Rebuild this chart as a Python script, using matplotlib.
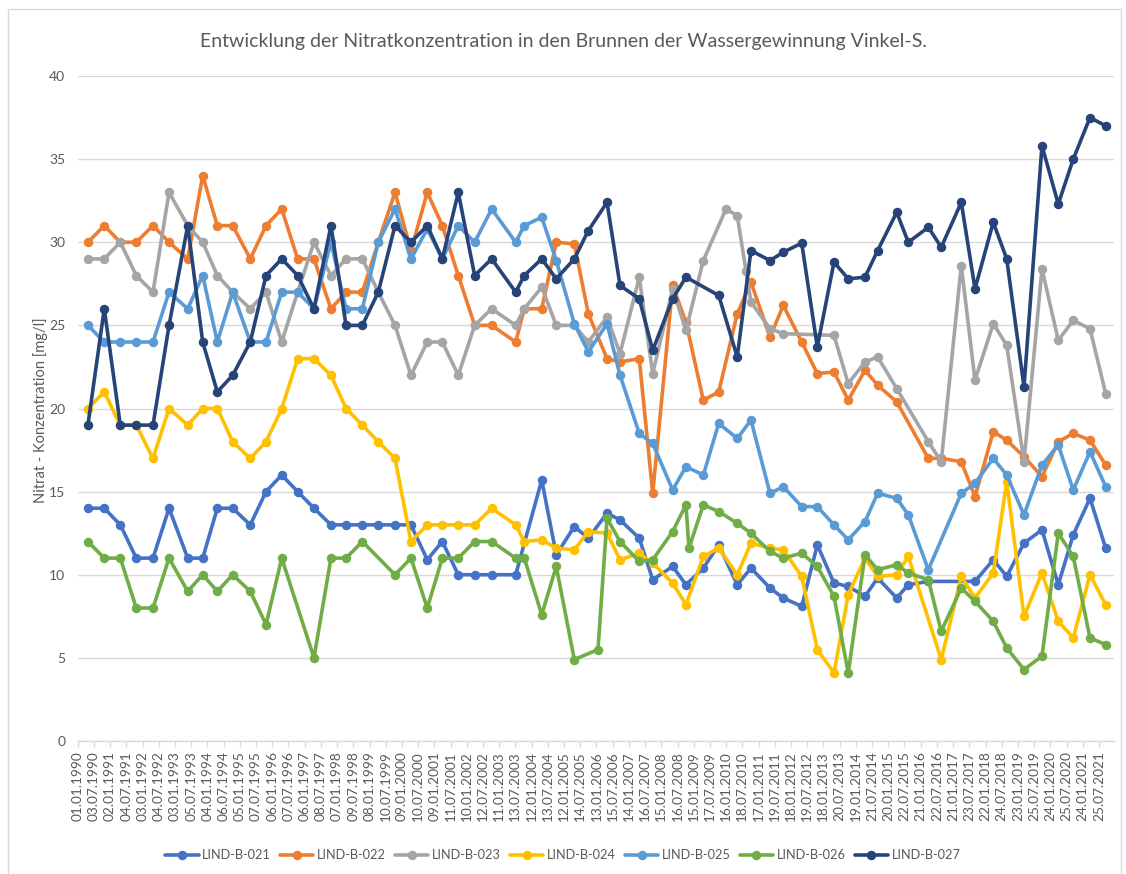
import matplotlib
matplotlib.use("Agg")
import matplotlib.pyplot as plt
import numpy as np
import pandas as pd
from matplotlib.patches import Rectangle

plt.rcParams["font.family"] = ["Lato", "DejaVu Sans"]

TITLE = "Entwicklung der Nitratkonzentration in den Brunnen der Wassergewinnung Vinkel-S."
YLABEL = "Nitrat - Konzentration [mg/l]"

# sampling dates
DATES = [
    "1990-04-26", "1990-10-28", "1991-04-27", "1991-10-24", "1992-04-30", "1992-10-28",
    "1993-05-27", "1993-11-12", "1994-04-26", "1994-10-17", "1995-05-03", "1995-10-28",
    "1996-04-22", "1996-10-19", "1997-04-21", "1997-10-30", "1998-04-18", "1998-10-19",
    "1999-04-17", "1999-10-23", "2000-04-20", "2000-10-21", "2001-04-09", "2001-10-06",
    "2002-04-09", "2002-10-18", "2003-07-16", "2003-10-21", "2004-05-05", "2004-10-16",
    "2005-05-08", "2005-10-13", "2006-01-30", "2006-05-12", "2006-10-06", "2007-05-11",
    "2007-10-10", "2008-05-22", "2008-10-19", "2008-11-22", "2009-05-03", "2009-10-24",
    "2010-01-14", "2010-05-21", "2010-08-27", "2010-10-23", "2011-05-26", "2011-10-23",
    "2012-05-18", "2012-11-10", "2013-05-17", "2013-10-25", "2014-05-02", "2014-09-22",
    "2015-04-25", "2015-09-03", "2016-04-16", "2016-09-09", "2017-04-23", "2017-09-25",
    "2018-04-19", "2018-09-18", "2019-04-01", "2019-10-21", "2020-04-22", "2020-10-08",
    "2021-04-15", "2021-10-09",
]

N = None
B021 = [14, 14, 13, 11, 11, 14, 11, 11, 14, 14, 13, 15, 16, 15, 14, 13, 13, 13, 13, 13, 13,
        10.9, 12.0, 10, 10, 10, 10, N, 15.7, 11.2, 12.9, 12.2, N, 13.7, 13.3, 12.2, 9.7, 10.5,
        9.4, N, 10.4, 11.8, N, 9.4, N, 10.4, 9.2, 8.6, 8.1, 11.8, 9.5, 9.3, 8.7, 9.8, 8.6, 9.4,
        9.6, N, N, 9.6, 10.9, 9.9, 11.9, 12.7, 9.4, 12.4, 14.6, 11.6]
B022 = [30, 31, 30, 30, 31, 30, 29, 34, 31, 31, 29, 31, 32, 29, 29, 26, 27, 27, 30, 33, 29.5,
        33, 31, 28, 25, 25, 24, 26, 26, 30, 29.9, 25.7, N, 23.0, 22.8, 23.0, 14.9, 27.4,
        25.2, N, 20.5, 21.0, N, 25.7, N, 27.6, 24.3, 26.2, 24.0, 22.1, 22.2, 20.5, 22.3, 21.4,
        20.4, N, 17.0, 17.0, 16.8, 14.7, 18.6, 18.1, 17.1, 15.9, 18.0, 18.5, 18.1, 16.6]
B023 = [29, 29, 30, 28, 27, 33, 31, 30, 28, 27, 26, 27, 24, 27, 30, 28, 29, 29, 27, 25, 22,
        24, 24, 22, 25, 26, 25, 26, 27.3, 25, 25, 24.0, N, 25.5, 23.3, 27.9, 22.1, 27.2,
        24.7, N, 28.9, N, 32.0, 31.6, 28.3, 26.4, 24.8, 24.5, N, N, 24.4, 21.5, 22.8, 23.1,
        21.2, N, 18.0, 16.8, 28.6, 21.7, 25.1, 23.8, 16.8, 28.4, 24.1, 25.3, 24.8, 20.9]
B024 = [20, 21, 19, 19, 17, 20, 19, 20, 20, 18, 17, 18, 20, 23, 23, 22, 20, 19, 18, 17, 12,
        13, 13, 13, 13, 14, 13, 12, 12.1, 11.6, 11.5, 12.6, N, 12.5, 10.9, 11.3, 10.7, 9.5,
        8.2, N, 11.1, 11.6, N, 10.0, N, 11.9, 11.6, 11.5, 9.9, 5.5, 4.1, 8.8, 11.0, 9.9,
        10.0, 11.1, N, 4.9, 9.9, 8.6, 10.1, 15.6, 7.5, 10.1, 7.2, 6.2, 10.0, 8.2]
B025 = [25, 24, 24, 24, 24, 27, 26, 28, 24, 27, 24, 24, 27, 27, 26, 30, 26, 26, 30, 32, 29,
        30.8, 29, 31, 30, 32, 30, 31, 31.5, 28.9, 25.1, 23.4, N, 25.1, 22.0, 18.5, 17.9, 15.1,
        16.5, N, 16.0, 19.1, N, 18.2, N, 19.3, 14.9, 15.3, 14.1, 14.1, 13.0, 12.1, 13.2, 14.9,
        14.6, 13.6, 10.3, N, 14.9, 15.5, 17.0, 16.0, 13.6, 16.6, 17.8, 15.1, 17.4, 15.3]
B026 = [12, 11, 11, 8, 8, 11, 9, 10, 9, 10, 9, 7, 11, N, 5, 11, 11, 12, N, 10, 11,
        8, 11, 11, 12, 12, 11, 11, 7.6, 10.5, 4.9, N, 5.5, 13.4, 12.0, 10.8, 10.9, 12.6,
        14.2, 11.6, 14.2, 13.8, N, 13.1, N, 12.5, 11.4, 11.0, 11.3, 10.5, 8.7, 4.1, 11.2, 10.3,
        10.6, 10.1, 9.7, 6.6, 9.2, 8.4, 7.2, 5.6, 4.3, 5.1, 12.5, 11.1, 6.2, 5.8]
B027 = [19, 26, 19, 19, 19, 25, 31, 24, 21, 22, 24, 28, 29, 28, 26, 31, 25, 25, 27, 31, 30,
        31, 29, 33, 28, 29, 27, 28, 29, 27.8, 29, 30.7, N, 32.4, 27.4, 26.6, 23.5, 26.6,
        27.9, N, N, 26.8, N, 23.1, N, 29.5, 28.9, 29.4, 29.95, 23.7, 28.8, 27.8, 27.9, 29.5,
        31.8, 30.0, 30.9, 29.7, 32.4, 27.2, 31.2, 29.0, 21.3, 35.8, 32.3, 35.0, 37.5, 37.0]

SERIES = ["LIND-B-021", "LIND-B-022", "LIND-B-023", "LIND-B-024",
          "LIND-B-025", "LIND-B-026", "LIND-B-027"]
VALUES = [B021, B022, B023, B024, B025, B026, B027]
COLORS = ["#4472C4", "#ED7D31", "#A5A5A5", "#FFC000", "#5B9BD5", "#70AD47", "#264478"]

TICK_LABELS = [
    "01.01.1990", "03.07.1990", "02.01.1991", "04.07.1991", "03.01.1992", "04.07.1992",
    "03.01.1993", "05.07.1993", "04.01.1994", "06.07.1994", "05.01.1995", "07.07.1995",
    "06.01.1996", "07.07.1996", "06.01.1997", "08.07.1997", "07.01.1998", "09.07.1998",
    "08.01.1999", "10.07.1999", "09.01.2000", "10.07.2000", "09.01.2001", "11.07.2001",
    "10.01.2002", "12.07.2002", "11.01.2003", "13.07.2003", "12.01.2004", "13.07.2004",
    "12.01.2005", "14.07.2005", "13.01.2006", "15.07.2006", "14.01.2007", "16.07.2007",
    "15.01.2008", "16.07.2008", "15.01.2009", "17.07.2009", "16.01.2010", "18.07.2010",
    "17.01.2011", "19.07.2011", "18.01.2012", "19.07.2012", "18.01.2013", "20.07.2013",
    "19.01.2014", "21.07.2014", "20.01.2015", "22.07.2015", "21.01.2016", "22.07.2016",
    "21.01.2017", "23.07.2017", "22.01.2018", "24.07.2018", "23.01.2019", "25.07.2019",
    "24.01.2020", "25.07.2020", "24.01.2021", "25.07.2021",
]
XMIN, XMAX = "1990-01-01", "2022-01-11"

GREY = "#595959"
GRID = "#D9D9D9"

W, H = 1126, 874
fig = plt.figure(figsize=(W / 100, H / 100), dpi=100)
ax = fig.add_axes([77.7 / W, 1 - 741 / H, (1114 - 77.7) / W, (741 - 76) / H])

x = pd.to_datetime(DATES)
for name, vals, col in zip(SERIES, VALUES, COLORS):
    y = np.array([np.nan if v is None else v for v in vals], dtype=float)
    m = ~np.isnan(y)
    ax.plot(x[m], y[m], color=col, lw=2.6, marker="o", ms=5.8,
            solid_capstyle="round", solid_joinstyle="round", label=name)

ax.set_ylim(0, 40)
ax.set_yticks(range(0, 41, 5))
ax.set_xlim(pd.Timestamp(XMIN), pd.Timestamp(XMAX))
ticks = pd.to_datetime(TICK_LABELS, format="%d.%m.%Y")
ax.set_xticks(ticks)
ax.set_xticklabels(TICK_LABELS, rotation=90)

for s in ["top", "right", "left"]:
    ax.spines[s].set_visible(False)
ax.spines["bottom"].set_color(GRID)
ax.spines["bottom"].set_linewidth(1.0)
ax.grid(axis="y", color=GRID, lw=1.0)
ax.set_axisbelow(True)
ax.tick_params(axis="y", length=0, pad=9, labelsize=10, labelcolor=GREY)
ax.tick_params(axis="x", length=4.5, width=1.0, color=GRID, pad=3,
               labelsize=9.8, labelcolor=GREY)

fig.text(0.5, 1 - 42 / H, TITLE, ha="center", va="center", fontsize=14, color=GREY)
fig.text(41 / W, 1 - 410 / H, YLABEL, rotation=90, ha="center", va="center",
         fontsize=10.5, color=GREY)

handles, labels = ax.get_legend_handles_labels()
fig.legend(handles, labels, loc="center", bbox_to_anchor=(0.5, 1 - 855 / H), ncol=7,
           frameon=False, fontsize=9.2, labelcolor=GREY, handlelength=2.6,
           handletextpad=0.3, columnspacing=0.7)

fig.patches.append(Rectangle((8 / W, -0.01), (1121 - 8) / W, 1 - 9 / H + 0.01,
                             transform=fig.transFigure, fill=False,
                             edgecolor=GRID, lw=1.0))

fig.savefig("out.png", dpi=100)
